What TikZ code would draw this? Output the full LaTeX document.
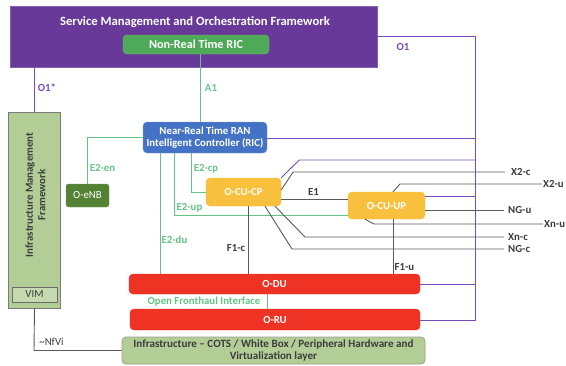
\documentclass[tikz,border=0pt]{standalone}
\usepackage{fontspec}
\setmainfont{Carlito}
\usetikzlibrary{calc}
\definecolor{smoC}{RGB}{104,57,152}
\definecolor{nonrtC}{RGB}{78,170,88}
\definecolor{ricC}{RGB}{68,114,196}
\definecolor{cuC}{RGB}{249,192,62}
\definecolor{redC}{RGB}{238,51,37}
\definecolor{infraC}{RGB}{178,206,150}
\definecolor{infraB}{RGB}{150,162,140}
\definecolor{enbC}{RGB}{84,130,53}
\definecolor{lgreen}{RGB}{100,196,134}
\definecolor{lpurple}{RGB}{120,76,188}
\definecolor{lgrey}{RGB}{90,90,90}
\definecolor{tgrey}{RGB}{60,60,60}
\begin{document}
\begin{tikzpicture}[x=1pt,y=-1pt,
  box/.style={rectangle, rounded corners=4pt, inner sep=0pt, align=center, text=white,
    font=\bfseries\fontsize{10.8}{12.5}\selectfont},
  glab/.style={inner sep=0pt, text=lgreen, font=\bfseries\fontsize{10.8}{12}\selectfont},
  plab/.style={inner sep=0pt, text=lpurple, font=\bfseries\fontsize{10.8}{12}\selectfont},
  klab/.style={inner sep=0pt, text=tgrey, font=\bfseries\fontsize{10.8}{12}\selectfont},
  gline/.style={draw=lgreen, line width=0.9pt},
  pline/.style={draw=lpurple, line width=0.9pt},
  kline/.style={draw=lgrey, line width=0.9pt}]
\useasboundingbox (0,0) rectangle (566,365);

% boxes
\node[rectangle, fill=smoC, draw=smoC!80!white, minimum width=367pt, minimum height=61pt, inner sep=0pt] (smo) at (193.5,36.5) {};
\node[inner sep=0pt, text=white, font=\bfseries\fontsize{12.6}{14}\selectfont] (smotitle) at (195,22) {Service Management and Orchestration Framework};
\node[box, fill=nonrtC, draw=nonrtC!80!white, minimum width=146pt, minimum height=19pt, font=\bfseries\fontsize{12.2}{14}\selectfont] (nonrt) at (196,44.5) {Non-Real Time RIC};

\node[rectangle, fill=infraC, draw=lgrey!80!white, line width=0.8pt, minimum width=52pt, minimum height=196pt, inner sep=0pt] (imf) at (34,210) {};
\node[rotate=90, inner sep=0pt, align=center, text=tgrey, font=\bfseries\fontsize{10.8}{12.5}\selectfont] (imftext) at (35.5,195) {Infrastructure Management\\Framework};
\node[rectangle, fill=infraC!75!white, draw=lgrey!90!white, line width=0.8pt, minimum width=45pt, minimum height=15pt, inner sep=0pt, text=tgrey, font=\fontsize{10.8}{12}\selectfont] (vim) at (34.5,294.5) {VIM};

\node[box, fill=ricC, draw=ricC!70!white, minimum width=124pt, minimum height=31pt] (nearrt) at (205,137.5) {Near-Real Time RAN\\Intelligent Controller (RIC)};
\node[box, fill=enbC, draw=enbC!80!white, minimum width=43pt, minimum height=23pt, rounded corners=2.5pt, font=\fontsize{10.8}{12}\selectfont] (oenb) at (87.5,195.5) {O-eNB};
\node[box, fill=cuC, draw=cuC, minimum width=75pt, minimum height=28pt] (ocucp) at (243.5,192) {O-CU-CP};
\node[box, fill=cuC, draw=cuC, minimum width=77pt, minimum height=27pt] (ocuup) at (386.5,205.5) {O-CU-UP};
\node[box, fill=redC, draw=redC, minimum width=291pt, minimum height=20pt] (odu) at (274.5,284) {O-DU};
\node[box, fill=redC, draw=redC, minimum width=290pt, minimum height=21pt] (oru) at (275,319.5) {O-RU};
\node[box, fill=infraC, draw=infraB, line width=0.8pt, minimum width=303pt, minimum height=27pt, text=tgrey, font=\bfseries\fontsize{11.1}{12.5}\selectfont] (infra) at (273.5,350.5) {Infrastructure -- COTS / White Box / Peripheral Hardware and\\Virtualization layer};

% right side labels
\node[klab, anchor=west] (x2c) at (505,172) {\hspace{6pt}X2-c};
\node[klab, anchor=west] (x2u) at (542,184) {\hspace{1pt}X2-u};
\node[klab, anchor=west] (ngu) at (504,210) {\hspace{4pt}NG-u};
\node[klab, anchor=west] (xnu) at (543,224) {\hspace{1pt}Xn-u};
\node[klab, anchor=west] (xnc) at (504,237) {\hspace{4pt}Xn-c};
\node[klab, anchor=west] (ngc) at (504,249) {\hspace{4pt}NG-c};

% O1 coordinates
\coordinate (o1top) at (475,36);
\coordinate (o1bot) at (475,320);

% purple lines
\draw[pline] (smo.east |- o1top) -- (o1top) -- (o1bot) -- (oru.east |- o1bot);
\draw[pline] (imf.north |- smo.south) -- (imf.north);
\draw[pline] ([yshift=-0.5pt]nearrt.east) -- ([yshift=-0.5pt]nearrt.east -| o1top);
\draw[pline] (ocucp.north east) -- ([xshift=18pt]ocucp.north east |- 0,160) -- (o1top |- 0,160);
\draw[pline] ([yshift=9.5pt]ocuup.east) -- ([yshift=9.5pt]ocuup.east -| o1top);
\draw[pline] (odu.east) -- (odu.east -| o1top);

% green lines
\draw[gline] ([xshift=4pt]nonrt.south) -- ([xshift=4pt]nonrt.south |- nearrt.north);
\draw[gline] ([yshift=0.5pt]nearrt.west) -| (oenb.north);
\draw[gline] ([xshift=-14pt]nearrt.south) |- (ocucp.west);
\draw[gline] ([xshift=-31pt]nearrt.south) |- ([yshift=-10pt]ocuup.west);
\draw[gline] ([xshift=-45pt]nearrt.south) -- ([xshift=-45pt]nearrt.south |- odu.north);
\draw[gline] ([xshift=-7.5pt]odu.south) -- ([xshift=-7.5pt]odu.south |- oru.north);

% grey lines
\draw[kline] ([xshift=4.5pt]ocucp.south) -- ([xshift=4.5pt]ocucp.south |- odu.north);
\draw[kline] ([xshift=6.5pt]ocuup.south) -- ([xshift=6.5pt]ocuup.south |- odu.north);
\draw[kline] ([yshift=-7pt]ocucp.east) -- ([yshift=-7pt]ocucp.east -| ocuup.west);
\draw[kline] ([yshift=2pt]ocucp.east) -- ([xshift=12pt]ocucp.east |- x2c.west) -- (x2c.west);
\draw[kline] ([xshift=6.5pt]ocuup.north) -- ([xshift=13.5pt]ocuup.north |- x2u.west) -- (x2u.west);
\draw[kline] (ocuup.east |- ngu.west) -- (ngu.west);
\draw[kline] ([xshift=-21.5pt]ocuup.south) -- ([xshift=-12.5pt]ocuup.south |- xnu.west) -- (xnu.west);
\draw[kline] ([xshift=31.5pt]ocucp.south) -- ([xshift=61.5pt]ocucp.south |- xnc.west) -- (xnc.west);
\draw[kline] ([xshift=21.5pt]ocucp.south) -- ([xshift=48.5pt]ocucp.south |- ngc.west) -- (ngc.west);
\draw[kline] (imf.south -| vim.south) -- (imf.south |- infra.west) -- (infra.west);

% labels
\node[plab] (lo1s) at (47,88) {O1*};
\node[plab] (lo1) at (403,47) {O1};
\node[glab] (la1) at (211,88) {A1};
\node[glab] (le2en) at (102.5,168) {E2-en};
\node[glab] (le2cp) at (206,169) {E2-cp};
\node[glab] (le2up) at (189.5,208) {E2-up};
\node[glab] (le2du) at (174.5,240) {E2-du};
\node[glab] (lofh) at (204,302) {Open Fronthaul Interface};
\node[klab] (lf1c) at (236,248) {F1-c};
\node[klab] (lf1u) at (404.5,267) {F1-u};
\node[klab] (le1) at (313.5,192) {E1};
\node[inner sep=0pt, text=tgrey, font=\fontsize{10.8}{12}\selectfont] (lnfvi) at (51.5,342) {\textasciitilde NfVi};
\end{tikzpicture}
\end{document}
